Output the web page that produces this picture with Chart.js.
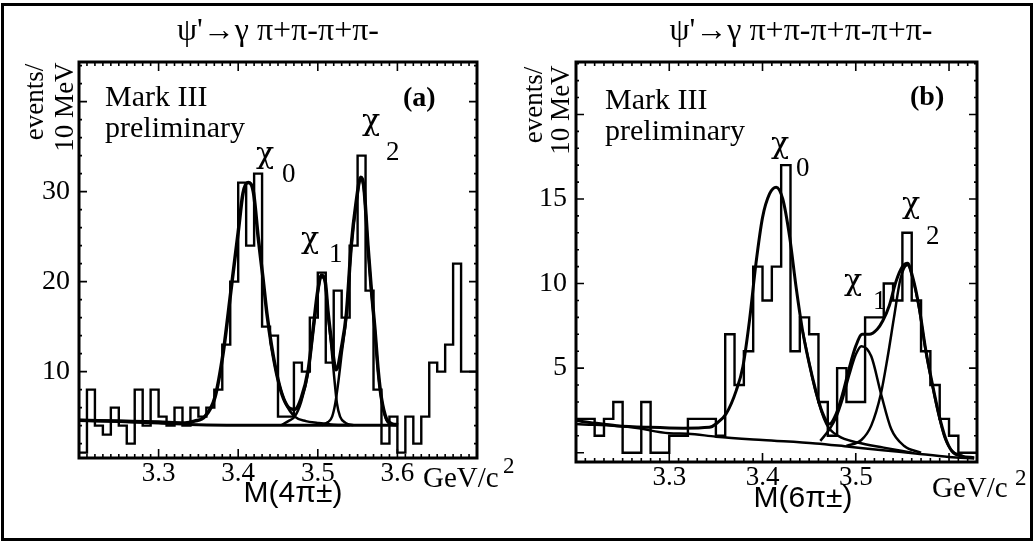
<!DOCTYPE html>
<html>
<head>
<meta charset="utf-8">
<script src="https://cdn.jsdelivr.net/npm/chart.js@4.4.1/dist/chart.umd.min.js"></script>
<style>
    html, body { margin: 0; padding: 0; background: #fff; }
    #page { position: relative; width: 1036px; height: 546px; overflow: hidden; background: #fff; }
    canvas { position: absolute; top: 0; }
    .frame { position: absolute; left: 1px; top: 3px; width: 1026px; height: 532px; border: 3px solid #000; }
    .t { position: absolute; white-space: nowrap; line-height: 1; color: #000;
         font-family: "Liberation Serif", "Times New Roman", serif; }
    .sans { font-family: "Liberation Sans", Arial, sans-serif; }
    .chi { font-family: "DejaVu Serif", serif; font-size: 30px; }
    .sub { font-size: 27px; }
    .c { transform: translateX(-50%); }
    .rot { transform: translate(-50%, -50%) rotate(-90deg); }
</style>
</head>
<body>
<div id="page">
    <div class="frame"></div>
    <canvas id="chartA" width="520" height="546" style="left:0"></canvas>
    <canvas id="chartB" width="516" height="546" style="left:520px"></canvas>

    <!-- panel (a) texts -->
    <div class="t c" style="left:278px; top:13px; font-size:32px;">ψ'→γ π+π-π+π-</div>
    <div class="t rot" style="left:34px; top:102px; font-size:27px;">events/</div>
    <div class="t rot" style="left:64px; top:107px; font-size:27px;">10 MeV</div>
    <div class="t" style="left:105px; top:81px; font-size:30px;">Mark III</div>
    <div class="t" style="left:105px; top:112px; font-size:30px;">preliminary</div>
    <div class="t" style="left:403px; top:83px; font-size:28px; font-weight:bold;">(a)</div>
    <div class="t chi" style="left:256px; top:138px;">χ</div>
    <div class="t sub" style="left:282px; top:160px;">0</div>
    <div class="t chi" style="left:301px; top:223px;">χ</div>
    <div class="t sub" style="left:329px; top:240px;">1</div>
    <div class="t chi" style="left:362px; top:105px;">χ</div>
    <div class="t sub" style="left:386px; top:138px;">2</div>
    <div class="t" style="left:423px; top:463px; font-size:29px;">GeV/c</div>
    <div class="t" style="left:503px; top:454px; font-size:23px;">2</div>
    <div class="t sans c" style="left:293px; top:477px; font-size:30px;">M(4π±)</div>

    <!-- panel (b) texts -->
    <div class="t c" style="left:801px; top:13px; font-size:32px;">ψ'→γ π+π-π+π-π+π-</div>
    <div class="t rot" style="left:533px; top:105px; font-size:27px;">events/</div>
    <div class="t rot" style="left:560px; top:110px; font-size:27px;">10 MeV</div>
    <div class="t" style="left:605px; top:84px; font-size:30px;">Mark III</div>
    <div class="t" style="left:605px; top:115px; font-size:30px;">preliminary</div>
    <div class="t" style="left:910px; top:82px; font-size:28px; font-weight:bold;">(b)</div>
    <div class="t chi" style="left:771px; top:128px;">χ</div>
    <div class="t sub" style="left:796px; top:154px;">0</div>
    <div class="t chi" style="left:844px; top:265px;">χ</div>
    <div class="t sub" style="left:873px; top:287px;">1</div>
    <div class="t chi" style="left:902px; top:188px;">χ</div>
    <div class="t sub" style="left:926px; top:222px;">2</div>
    <div class="t" style="left:932px; top:473px; font-size:29px;">GeV/c</div>
    <div class="t" style="left:1015px; top:466px; font-size:23px;">2</div>
    <div class="t sans c" style="left:803px; top:482px; font-size:30px;">M(6π±)</div>
</div>

<script>
    "use strict";

    // ============================
    // Data
    // ============================

    // 10 MeV bins, first bin starts at the left edge
    const BIN_START = 3.20;
    const BIN_WIDTH = 0.01;

    // panel (a): M(4pi), 3.20 .. 3.70
    const histA = [1, 8, 4, 3, 6, 4, 2, 8, 4, 8,
                   5, 4, 6, 4, 6, 5, 6, 8, 13, 20,
                   31, 24, 32, 15, 14, 5, 5, 11, 10, 16,
                   21, 11, 19, 16, 24, 34, 19, 8, 2, 5,
                   1, 5, 2, 5, 11, 10, 13, 22, 10, 10];

    // panel (b): M(6pi), 3.20 .. 3.63
    const histB = [2, 2, 1, 2, 3, 0, 0, 3, 0, 0,
                   1, 1, 2, 2, 2, 1, 7, 4, 6, 11,
                   9, 11, 17, 6, 8, 7, 3, 1, 5, 3,
                   3, 8, 8, 10, 9, 13, 9, 6, 4, 2,
                   1, 0, 0];

    // fit curves, [mass, events] points
    const fitA = [[3.200, 4.6], [3.250, 4.5], [3.300, 4.4], [3.333, 4.3], [3.345, 4.5],
                  [3.358, 5.0], [3.371, 7.2], [3.381, 12.0], [3.392, 19.8], [3.400, 25.5],
                  [3.406, 29.8], [3.4125, 31.0], [3.419, 30.0], [3.425, 25.0], [3.431, 20.5],
                  [3.436, 16.5], [3.442, 12.8], [3.450, 9.1], [3.457, 7.0], [3.465, 5.9],
                  [3.471, 5.8], [3.479, 7.0], [3.488, 10.2], [3.494, 14.6], [3.500, 19.0],
                  [3.5045, 20.7], [3.509, 20.2], [3.513, 16.5], [3.517, 13.5], [3.523, 10.2],
                  [3.530, 12.8], [3.536, 16.5], [3.542, 24.0], [3.548, 28.7], [3.554, 31.6],
                  [3.558, 30.4], [3.563, 24.0], [3.567, 19.4], [3.5715, 15.0], [3.576, 10.0],
                  [3.580, 7.0], [3.586, 4.8], [3.593, 4.2], [3.601, 4.1]];
    const bgA = [[3.200, 4.6], [3.300, 4.3], [3.350, 4.1], [3.400, 4.05], [3.600, 4.05]];
    const chi0A = [[3.440, 13.5], [3.450, 9.1], [3.460, 6.4], [3.471, 5.0], [3.485, 4.5],
                   [3.500, 4.3], [3.520, 4.1], [3.540, 4.05]];
    const chi1A = [[3.455, 4.1], [3.463, 4.5], [3.471, 5.0], [3.479, 6.6], [3.488, 10.0],
                   [3.494, 14.4], [3.500, 18.8], [3.5045, 20.5], [3.509, 20.0], [3.513, 16.3],
                   [3.517, 12.8], [3.521, 9.0], [3.524, 6.5], [3.528, 5.0], [3.535, 4.3],
                   [3.545, 4.05]];
    const chi2A = [[3.505, 4.05], [3.513, 4.4], [3.518, 5.0], [3.522, 6.5], [3.526, 9.0],
                   [3.530, 12.0], [3.536, 16.3], [3.542, 23.8], [3.548, 28.5], [3.554, 31.4],
                   [3.558, 30.2], [3.563, 23.8], [3.567, 19.2], [3.5715, 14.8], [3.576, 9.8],
                   [3.580, 6.9], [3.586, 4.7], [3.593, 4.1], [3.600, 4.05]];

    const fitB = [[3.200, 1.9], [3.220, 1.75], [3.2435, 1.6], [3.279, 1.5], [3.315, 1.45],
                  [3.343, 1.5], [3.350, 1.7], [3.361, 2.3], [3.372, 3.7], [3.379, 5.1],
                  [3.386, 7.8], [3.393, 11.2], [3.400, 13.9], [3.4075, 15.3], [3.4147, 15.7],
                  [3.4217, 15.0], [3.429, 12.8], [3.436, 9.8], [3.443, 7.2], [3.450, 5.3],
                  [3.457, 3.7], [3.464, 2.4], [3.4717, 1.7], [3.479, 2.3], [3.486, 3.5],
                  [3.493, 5.0], [3.500, 6.3], [3.507, 7.0], [3.5144, 7.0], [3.523, 7.3],
                  [3.529, 7.8], [3.536, 8.7], [3.543, 10.1], [3.550, 11.0], [3.5555, 11.2],
                  [3.561, 10.4], [3.568, 8.6], [3.575, 6.1], [3.582, 4.1], [3.589, 2.3],
                  [3.596, 0.9], [3.603, 0.1], [3.614, -0.2], [3.627, -0.3]];
    const bgB = [[3.200, 1.7], [3.260, 1.5], [3.300, 1.15], [3.320, 1.12], [3.350, 0.95],
                 [3.400, 0.75], [3.457, 0.55], [3.493, 0.35], [3.529, 0.15], [3.564, -0.05],
                 [3.600, -0.25], [3.627, -0.35]];
    const chi0B = [[3.443, 7.2], [3.450, 5.3], [3.457, 3.6], [3.4685, 1.7], [3.481, 1.0],
                   [3.502, 0.6], [3.530, 0.3], [3.560, 0.0]];
    const chi1B = [[3.462, 0.7], [3.472, 1.4], [3.479, 2.1], [3.486, 3.2], [3.493, 4.6],
                   [3.500, 5.8], [3.506, 6.3], [3.5166, 5.7], [3.527, 3.5], [3.538, 1.4],
                   [3.552, 0.4], [3.570, 0.0]];
    const chi2B = [[3.490, 0.4], [3.506, 0.75], [3.5166, 1.6], [3.527, 3.5], [3.534, 5.6],
                   [3.541, 8.0], [3.548, 10.3], [3.5555, 11.1], [3.561, 10.3], [3.568, 8.5],
                   [3.575, 6.0], [3.582, 4.0], [3.589, 2.2], [3.596, 0.8], [3.605, 0.0],
                   [3.615, -0.2]];

    // tick labels
    const xTicksA = [3.3, 3.4, 3.5, 3.6];
    const yTicksA = [10, 20, 30];
    const xTicksB = [3.3, 3.4, 3.5];
    const yTicksB = [5, 10, 15];

    // ============================
    // Helpers
    // ============================
    const SERIF = '"Liberation Serif", "Times New Roman", serif';

    function histPoints(vals) {
        const pts = vals.map((v, i) => ({ x: BIN_START + i * BIN_WIDTH, y: v }));
        pts.push({ x: BIN_START + vals.length * BIN_WIDTH, y: vals[vals.length - 1] });
        return pts;
    }

    function curvePoints(pairs) {
        return pairs.map((p) => ({ x: p[0], y: p[1] }));
    }

    function histSet(vals) {
        return {
            data: histPoints(vals),
            stepped: "before",
            borderColor: "#000",
            borderWidth: 2.4,
            pointRadius: 0,
            fill: false,
        };
    }

    function curveSet(pairs, width) {
        return {
            data: curvePoints(pairs),
            cubicInterpolationMode: "monotone",
            borderColor: "#000",
            borderWidth: width,
            pointRadius: 0,
            fill: false,
        };
    }

    // box and inward ticks on all four sides
    const frameTicks = {
        id: "frameTicks",
        afterDatasetsDraw(chart, args, opts) {
            const { ctx, chartArea: a, scales } = chart;
            const x = scales.x, y = scales.y;
            ctx.save();
            ctx.strokeStyle = "#000";
            ctx.lineWidth = 1.6;
            ctx.beginPath();

            const xs = opts.xStep, xr = opts.xRatio;
            for (let i = Math.ceil(x.min / xs - 1e-6); i * xs <= x.max + 1e-9; i++) {
                const px = x.getPixelForValue(i * xs);
                const len = i % xr === 0 ? 9 : 4;
                ctx.moveTo(px, a.bottom); ctx.lineTo(px, a.bottom - len);
                ctx.moveTo(px, a.top); ctx.lineTo(px, a.top + len);
            }
            const ys = opts.yStep, yr = opts.yRatio;
            for (let i = Math.ceil(y.min / ys - 1e-6); i * ys <= y.max + 1e-9; i++) {
                const py = y.getPixelForValue(i * ys);
                const len = i % yr === 0 ? 8 : 3;
                ctx.moveTo(a.left, py); ctx.lineTo(a.left + len, py);
                ctx.moveTo(a.right, py); ctx.lineTo(a.right - len, py);
            }
            ctx.stroke();

            ctx.lineWidth = 3;
            ctx.strokeRect(a.left, a.top, a.right - a.left, a.bottom - a.top);
            ctx.restore();
        },
    };

    function makeChart(canvas, cfg) {
        return new Chart(canvas, {
            type: "line",
            data: { datasets: cfg.datasets },
            plugins: [frameTicks],
            options: {
                responsive: false,
                animation: false,
                devicePixelRatio: 1,
                layout: { padding: cfg.padding },
                plugins: {
                    legend: { display: false },
                    tooltip: { enabled: false },
                    frameTicks: cfg.ticks,
                },
                scales: {
                    x: {
                        type: "linear",
                        min: cfg.xMin,
                        max: cfg.xMax,
                        grid: { display: false, drawTicks: false },
                        border: { display: false },
                        afterFit: (s) => { s.height = cfg.xHeight; },
                        afterBuildTicks: (s) => { s.ticks = cfg.xTicks.map((v) => ({ value: v })); },
                        ticks: {
                            autoSkip: false,
                            maxRotation: 0,
                            padding: 0,
                            color: "#000",
                            font: { family: SERIF, size: 27 },
                            callback: (v) => v.toFixed(1),
                        },
                    },
                    y: {
                        type: "linear",
                        min: cfg.yMin,
                        max: cfg.yMax,
                        grid: { display: false, drawTicks: false },
                        border: { display: false },
                        afterFit: (s) => { s.width = cfg.yWidth; },
                        afterBuildTicks: (s) => { s.ticks = cfg.yTicks.map((v) => ({ value: v })); },
                        ticks: {
                            padding: 9,
                            color: "#000",
                            font: { family: SERIF, size: 28 },
                            callback: (v) => String(v),
                        },
                    },
                },
            },
        });
    }

    // ============================
    // Charts
    // ============================
    makeChart(document.getElementById("chartA"), {
        datasets: [
            histSet(histA),
            curveSet(bgA, 3),
            curveSet(chi0A, 2.5),
            curveSet(chi1A, 2.5),
            curveSet(chi2A, 2.5),
            curveSet(fitA, 3.5),
        ],
        padding: { left: 0, right: 43, top: 62, bottom: 0 },
        xMin: 3.2, xMax: 3.7, yMin: 0.4, yMax: 44.4,
        xHeight: 88, yWidth: 79,
        xTicks: xTicksA, yTicks: yTicksA,
        ticks: { xStep: 0.01, xRatio: 10, yStep: 2, yRatio: 5 },
    });

    makeChart(document.getElementById("chartB"), {
        datasets: [
            histSet(histB),
            curveSet(bgB, 2.5),
            curveSet(chi0B, 2.5),
            curveSet(chi1B, 2.5),
            curveSet(chi2B, 2.5),
            curveSet(fitB, 3),
        ],
        padding: { left: 0, right: 59, top: 62, bottom: 0 },
        xMin: 3.2, xMax: 3.63, yMin: -0.55, yMax: 23.1,
        xHeight: 84, yWidth: 56,
        xTicks: xTicksB, yTicks: yTicksB,
        ticks: { xStep: 0.01, xRatio: 10, yStep: 1, yRatio: 5 },
    });
</script>
</body>
</html>
